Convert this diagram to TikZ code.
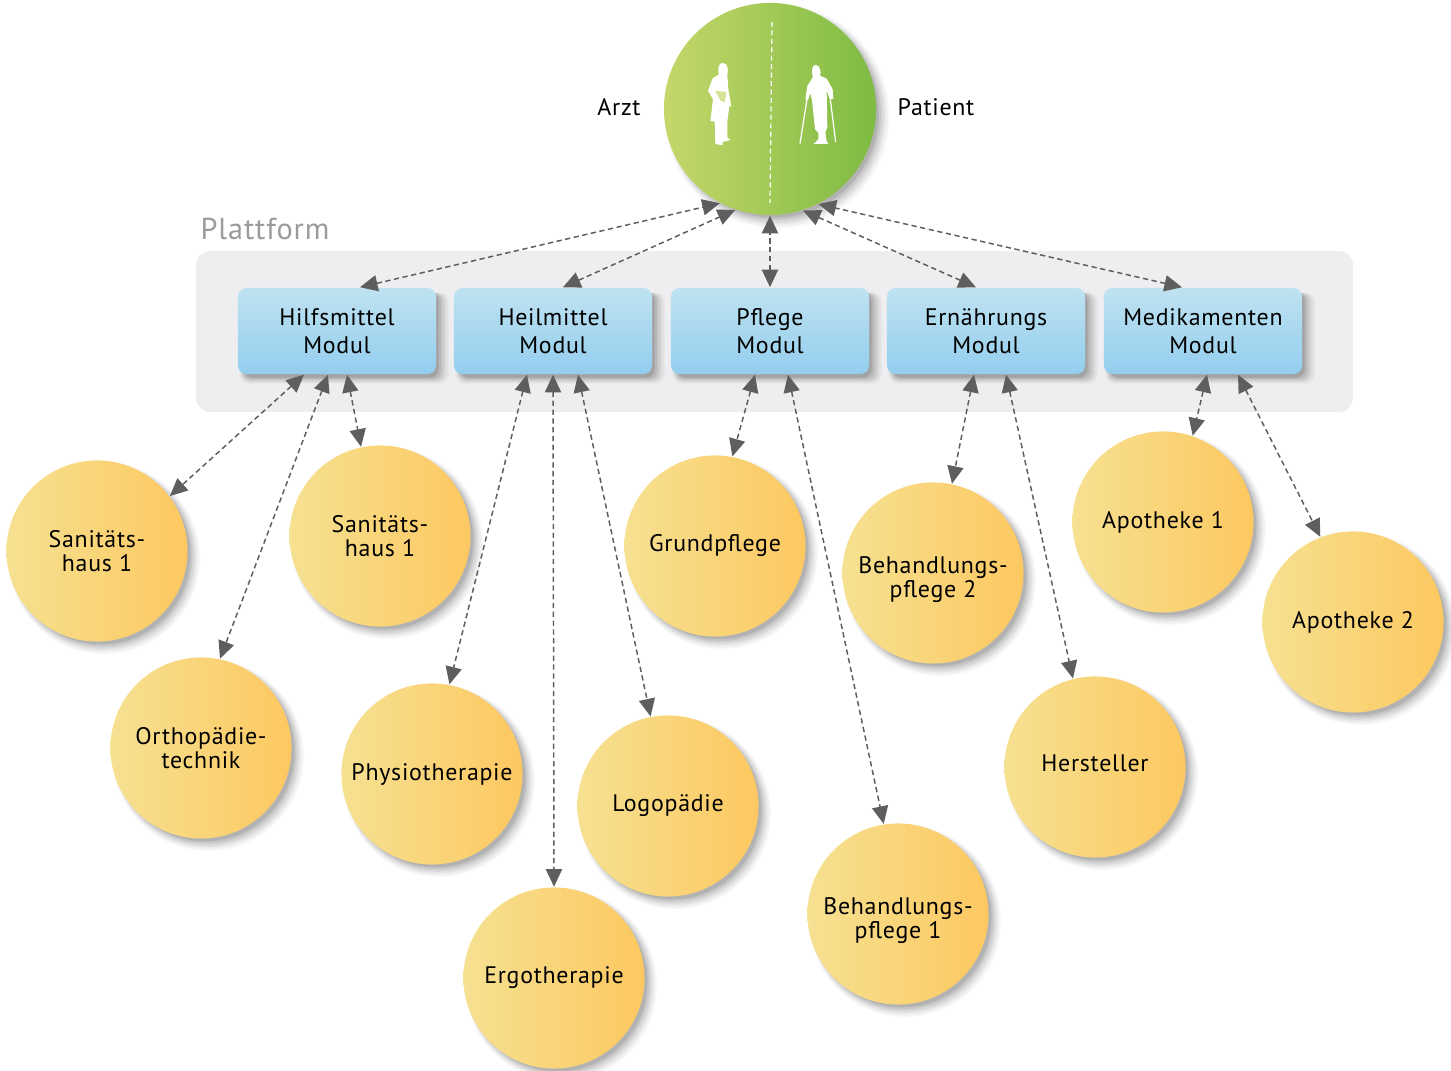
\documentclass[tikz,border=0pt]{standalone}
\usepackage{fontspec}
\setmainfont[LetterSpace=3]{PT Sans}
\usetikzlibrary{arrows.meta,shadows}
\definecolor{platformgray}{HTML}{EEEEF0}
\definecolor{labelgray}{HTML}{9B9B9B}
\definecolor{linkgray}{HTML}{5E5E5E}
\tikzset{
  softshadow/.style={
    drop shadow={shadow xshift=1.9pt,shadow yshift=-1.9pt,shadow scale=1.06,opacity=.025,fill=black},
    drop shadow={shadow xshift=1.9pt,shadow yshift=-1.9pt,shadow scale=1.045,opacity=.035,fill=black},
    drop shadow={shadow xshift=1.7pt,shadow yshift=-1.7pt,shadow scale=1.03,opacity=.05,fill=black},
    drop shadow={shadow xshift=1.6pt,shadow yshift=-1.6pt,shadow scale=1.015,opacity=.06,fill=black},
    drop shadow={shadow xshift=1.4pt,shadow yshift=-1.4pt,shadow scale=1,opacity=.08,fill=black},
    drop shadow={shadow xshift=1.2pt,shadow yshift=-1.2pt,shadow scale=.985,opacity=.10,fill=black}},
  ballnode/.style={circle,softshadow,minimum size=1.81cm,inner sep=0pt,align=center,
    left color=ballleft,right color=ballright,font=\fontsize{6.8}{6.8}\selectfont},
  modulnode/.style={rectangle,rounded corners=2.5pt,softshadow,minimum width=1.98cm,minimum height=.86cm,
    inner sep=0pt,align=center,top color=modultop,bottom color=modulbottom,font=\fontsize{6.8}{8}\selectfont},
  linkline/.style={draw=linkgray,line width=.42pt,dash pattern=on 1.5pt off 1pt,
    {Triangle[length=5pt,width=4.6pt,fill=linkgray]}-{Triangle[length=5pt,width=4.6pt,fill=linkgray]}},
  textnode/.style={inner sep=0pt,font=\fontsize{6.8}{8}\selectfont}
}
\definecolor{ballleft}{HTML}{F6E192}
\definecolor{ballright}{HTML}{FDC860}
\definecolor{modultop}{HTML}{BFE2F0}
\definecolor{modulbottom}{HTML}{93CEEF}
\definecolor{greenleft}{HTML}{C5D76A}
\definecolor{greenright}{HTML}{7EBB43}
\newcommand{\lowerline}{\rule{0pt}{8.6pt}}
\newcommand{\upperline}{\rule[-2.3pt]{0pt}{2.3pt}}
\begin{document}
\begin{tikzpicture}[x=.01cm,y=-.01cm]
  \useasboundingbox (0,0) rectangle (1451,1071);
  \draw[fill=platformgray,draw=none,rounded corners=4pt] (196,251) rectangle (1353,412);
  \node[inner sep=0pt,text=labelgray,font=\fontsize{8.6}{10}\selectfont] (plattform) at (265,229) {Plattform};

  \node[circle,softshadow,minimum size=2.12cm,inner sep=0pt,left color=greenleft,right color=greenright] (team) at (770,109) {};
  \node[textnode] (arzt) at (619,107) {Arzt};
  \node[textnode] (patient) at (936,107) {Patient};
  \draw[white,line width=.35pt,dash pattern=on 1.4pt off 1pt] (772,22) -- (770,203);

  \begin{scope}[shift={(650,0)},scale=1/3]
    % doctor
    \fill[white] (218,189) .. controls (232,189) and (236,205) .. (232,225) -- (235,268) -- (244,320) -- (238,318) -- (232,365)
      -- (232,412) -- (241,420) -- (218,426) -- (218,436) -- (196,432) -- (194,365) -- (181,363) -- (189,298)
      -- (174,272) -- (188,235) -- (206,224) .. controls (203,205) and (206,189) .. (218,189) -- cycle;
    \fill[greenleft!70!white] (195,272) -- (229,276) -- (225,307) -- (212,302) -- cycle;
    % patient
    \fill[white] (497,195) .. controls (512,195) and (514,220) .. (510,227) -- (530,236) -- (548,268) -- (550,296) -- (540,298)
      -- (530,272) -- (532,382) -- (526,398) -- (530,424) -- (535,432) -- (491,432) -- (505,418) -- (505,398) -- (495,388)
      -- (486,300) -- (481,280) -- (474,300) -- (466,298) -- (472,258) -- (488,232) .. controls (485,212) and (485,195) .. (497,195) -- cycle;
    \draw[white,line width=.35pt] (471,298) -- (450,431);
    \draw[white,line width=.35pt] (541,298) -- (557,426);
  \end{scope}

  \node[modulnode] (hilfsmittel) at (337,331) {Hilfsmittel\\Modul};
  \node[modulnode] (heilmittel) at (553,331) {Heilmittel\\Modul};
  \node[modulnode] (pflege) at (770,331) {Pflege\\Modul};
  \node[modulnode] (ernaehrung) at (986,331) {Ernährungs\\Modul};
  \node[modulnode] (medikamente) at (1203,331) {Medikamenten\\Modul};

  \node[ballnode] (sani1) at (97,551) {Sanitäts-\\haus 1};
  \node[ballnode] (sani2) at (380,536) {Sanitäts-\\haus 1};
  \node[ballnode] (ortho) at (201,748) {Orthopädie-\\technik};
  \node[ballnode] (physio) at (432,774) {Physiotherapie};
  \node[ballnode] (ergo) at (554,978) {Ergotherapie};
  \node[ballnode] (logo) at (668,806) {Logopädie};
  \node[ballnode] (grund) at (715,546) {Grundpflege};
  \node[ballnode] (behand2) at (933,573) {\lowerline Behandlungs-\\pflege 2};
  \node[ballnode] (behand1) at (898,914) {\lowerline Behandlungs-\\pflege 1};
  \node[ballnode] (herst) at (1095,767) {\upperline Hersteller};
  \node[ballnode] (apo1) at (1163,522) {Apotheke 1};
  \node[ballnode] (apo2) at (1353,622) {Apotheke 2};

  \draw[linkline] ([xshift=.23cm]hilfsmittel.north) -- (team.242);
  \draw[linkline] ([xshift=.10cm]heilmittel.north) -- (team.251);
  \draw[linkline] (pflege.north) -- (team.270);
  \draw[linkline] ([xshift=-.10cm]ernaehrung.north) -- (team.288);
  \draw[linkline] ([xshift=-.21cm]medikamente.north) -- (team.297);

  \draw[linkline] ([xshift=-.33cm]hilfsmittel.south) -- (sani1.37);
  \draw[linkline] ([xshift=-.09cm]hilfsmittel.south) -- (ortho.78);
  \draw[linkline] ([xshift=.10cm]hilfsmittel.south) -- (sani2.102);
  \draw[linkline] ([xshift=-.26cm]heilmittel.south) -- (physio.79);
  \draw[linkline] (heilmittel.south) -- (ergo.90);
  \draw[linkline] ([xshift=.25cm]heilmittel.south) -- (logo.101);
  \draw[linkline] ([xshift=-.15cm]pflege.south) -- (grund.79);
  \draw[linkline] ([xshift=.18cm]pflege.south) -- (behand1.99);
  \draw[linkline] ([xshift=-.12cm]ernaehrung.south) -- (behand2.78);
  \draw[linkline] ([xshift=.20cm]ernaehrung.south) -- (herst.104);
  \draw[linkline] ([xshift=.04cm]medikamente.south) -- (apo1.71);
  \draw[linkline] ([xshift=.35cm]medikamente.south) -- (apo2.111);
\end{tikzpicture}
\end{document}
